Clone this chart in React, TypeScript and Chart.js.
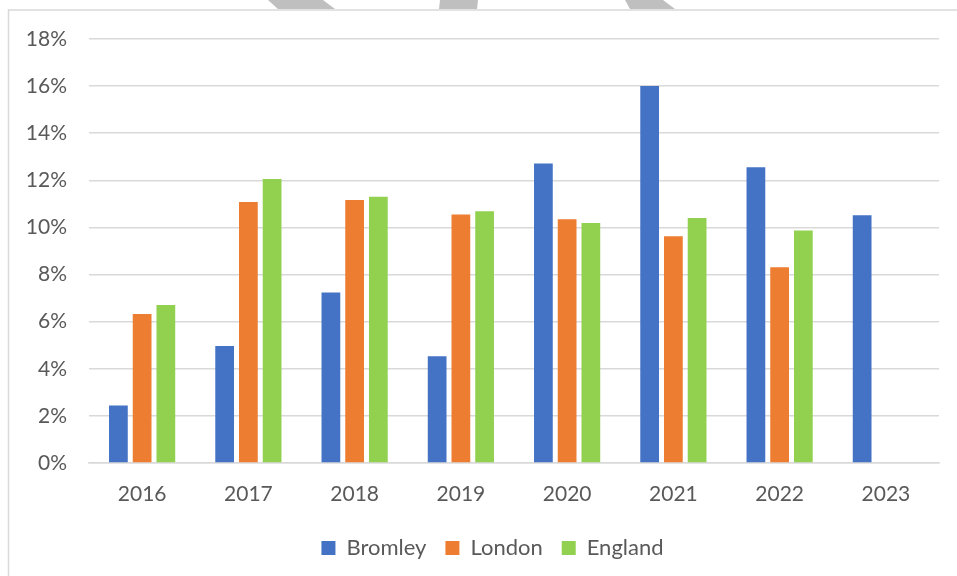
import React, { useEffect, useRef } from "react";
import { Chart, registerables } from "chart.js";

Chart.register(...registerables);

const years = ["2016", "2017", "2018", "2019", "2020", "2021", "2022", "2023"];
const bromley = [2.44, 4.97, 7.24, 4.53, 12.71, 16.0, 12.56, 10.52];
const london = [6.33, 11.08, 11.17, 10.55, 10.35, 9.63, 8.31, null];
const england = [6.71, 12.06, 11.3, 10.69, 10.19, 10.4, 9.87, null];

const FONT = "Lato, 'Noto Sans', sans-serif";
const TEXT = "#595959";

const framePlugin = {
  id: "frame",
  afterLayout(chart: any) {
    // centre the legend in the bordered frame rather than the canvas
    if (chart.legend) {
      chart.legend.left += 23;
      chart.legend.right += 23;
    }
  },
  beforeDraw(chart: any) {
    const ctx = chart.ctx;
    ctx.save();
    ctx.fillStyle = "#ffffff";
    ctx.fillRect(0, 0, chart.width, chart.height);
    // watermark fragments above the frame
    ctx.fillStyle = "#BFBFBF";
    const polys = [
      [[268, 0], [323, 0], [335, 9], [278, 9]],
      [[440, 0], [478, 0], [477, 9], [439, 9]],
      [[625, 0], [663, 0], [675, 9], [630, 9]],
    ];
    for (const p of polys) {
      ctx.beginPath();
      ctx.moveTo(p[0][0], p[0][1]);
      for (let i = 1; i < p.length; i++) ctx.lineTo(p[i][0], p[i][1]);
      ctx.closePath();
      ctx.fill();
    }
    ctx.strokeStyle = "#D9D9D9";
    ctx.lineWidth = 1.5;
    ctx.strokeRect(8.5, 10, chart.width + 20, chart.height + 20);
    ctx.restore();
  },
};

export default function App() {
  const ref = useRef<HTMLCanvasElement | null>(null);
  useEffect(() => {
    if (!ref.current) return;
    const chart = new Chart(ref.current, {
      type: "bar",
      data: {
        labels: years,
        datasets: [
          { label: "Bromley", data: bromley, backgroundColor: "#4472C4" },
          { label: "London", data: london, backgroundColor: "#ED7D31" },
          { label: "England", data: england, backgroundColor: "#92D050" },
        ],
      },
      options: {
        animation: false,
        responsive: false,
        maintainAspectRatio: false,
        devicePixelRatio: 1,
        layout: { padding: { left: 0, right: 18, top: 39, bottom: 7 } },
        datasets: {
          bar: { categoryPercentage: 0.67, barPercentage: 0.79 },
        },
        scales: {
          x: {
            grid: { display: false, drawTicks: false },
            border: { display: true, color: "#D9D9D9", width: 1.5 },
            ticks: { color: TEXT, font: { family: FONT, size: 21 }, padding: 19 },
            afterFit: (s: any) => {
              s.height = 55;
            },
          },
          y: {
            min: 0,
            max: 18,
            grid: { color: "#D9D9D9", lineWidth: 1.5, drawTicks: false },
            border: { display: false },
            ticks: {
              stepSize: 2,
              color: TEXT,
              font: { family: FONT, size: 21 },
              padding: 22,
              callback: (v: any) => v + "%",
            },
            afterFit: (s: any) => {
              s.width = 89;
            },
          },
        },
        plugins: {
          legend: {
            position: "bottom",
            labels: {
              color: TEXT,
              font: { family: FONT, size: 22 },
              boxWidth: 14,
              boxHeight: 14,
              padding: 19,
            },
          },
          tooltip: { enabled: false },
        },
      },
      plugins: [framePlugin],
    });
    return () => chart.destroy();
  }, []);
  return (
    <div style={{ position: "absolute", left: 0, top: 0, width: 957, height: 576 }}>
      <canvas ref={ref} width={957} height={576} style={{ width: 957, height: 576, display: "block" }} />
    </div>
  );
}
